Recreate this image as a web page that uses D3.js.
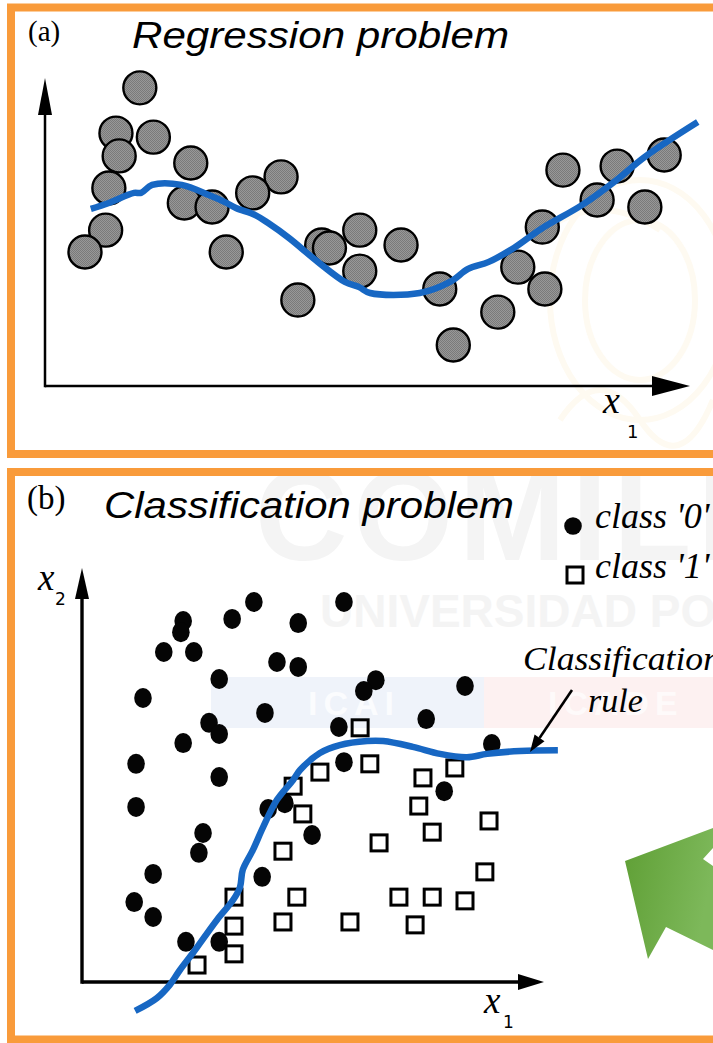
<!DOCTYPE html>
<html><head><meta charset="utf-8">
<script src="https://cdn.jsdelivr.net/npm/d3@7"></script>
<style>html,body{margin:0;padding:0;background:#fff;} svg{display:block;}</style>
</head><body>
<svg id="chart" width="713" height="1043"></svg>
<script>
// ---------- DATA (axis units 0..100) ----------
// (a) regression: observed points
const regX = [14.7, 11.0, 16.8, 11.5, 22.6, 9.9, 36.6, 32.2, 21.6, 25.9, 9.4, 6.2, 28.1, 42.9, 44.1, 48.8, 55.2, 48.8, 39.2, 61.2, 63.3, 70.2, 73.3, 77.5, 77.1, 80.3, 85.6, 88.7, 96.0, 93.0];
const regY = [96.8, 82.1, 80.8, 74.7, 72.4, 64.3, 67.9, 62.7, 59.4, 58.1, 50.6, 43.5, 43.5, 45.8, 44.8, 50.6, 45.8, 37.3, 27.9, 31.5, 13.3, 24.0, 38.6, 31.5, 51.6, 70.1, 60.4, 71.4, 75.0, 58.1];
// (a) fitted regression curve
const fitX = [7.1, 9.9, 13.8, 14.9, 16.6, 21.2, 25.4, 27.9, 29.6, 32.6, 34.6, 37.8, 42.3, 46.5, 48.7, 50.4, 58.1, 62.8, 65.6, 68.8, 72.7, 76.9, 83.3, 88.2, 93.0, 101.2];
const fitY = [57.5, 59.4, 62.7, 62.7, 65.3, 65.3, 62.0, 59.7, 57.8, 55.5, 52.9, 48.1, 40.3, 33.8, 32.1, 30.2, 30.2, 33.8, 38.0, 40.3, 44.8, 51.0, 58.8, 66.2, 74.4, 85.7];
// (b) classification: class '0'
const class0X = [21.9, 21.4, 17.7, 24.2, 32.5, 37.2, 46.8, 56.7, 42.2, 46.8, 29.7, 13.2, 39.6, 63.6, 61.0, 82.9, 27.5, 29.7, 21.9, 55.6, 74.5, 88.7, 11.7, 29.7, 56.7, 11.7, 40.3, 43.9, 78.4, 26.2, 25.3, 49.8, 15.4, 39.0, 11.3, 15.4, 22.5, 29.7];
const class0Y = [87.2, 84.5, 79.7, 79.7, 87.7, 91.8, 86.7, 91.8, 77.3, 76.1, 73.2, 68.6, 65.0, 72.9, 70.3, 71.5, 62.6, 59.9, 57.7, 61.6, 63.5, 57.5, 52.7, 49.5, 53.1, 42.3, 41.8, 43.2, 46.1, 36.0, 31.2, 35.5, 26.1, 25.4, 19.3, 15.7, 9.7, 9.7];
// (b) class '1'
const class1X = [60.2, 51.5, 62.3, 45.7, 80.7, 73.8, 72.9, 47.8, 88.1, 75.8, 64.3, 43.5, 87.2, 32.9, 46.5, 68.6, 75.8, 82.9, 43.5, 58.0, 72.1, 32.9, 32.9, 24.9];
const class1Y = [61.4, 50.7, 52.7, 47.3, 51.7, 49.3, 42.5, 40.6, 38.9, 36.2, 33.6, 31.6, 26.6, 20.5, 20.5, 20.5, 20.5, 19.6, 14.5, 14.5, 13.8, 13.5, 6.8, 4.1];
// (b) classification rule (decision boundary)
const ruleX = [11.5, 16.2, 19.0, 21.2, 24.0, 29.2, 32.7, 34.2, 34.8, 37.0, 39.2, 42.2, 45.7, 47.2, 51.5, 55.8, 61.7, 65.2, 71.6, 77.5, 83.3, 87.7, 94.8, 103.0];
const ruleY = [-7.0, -3.9, -0.7, 2.9, 7.0, 15.0, 19.8, 22.9, 27.1, 31.9, 37.4, 44.0, 48.8, 51.2, 55.3, 57.2, 58.2, 58.2, 56.8, 55.1, 54.3, 55.1, 55.8, 56.0];

const panelLabels = ["(a)", "(b)"];
const panelTitles = ["Regression problem", "Classification problem"];
const legendLabels = ["class '0'", "class '1'"];
const ruleLabel = ["Classification", "rule"];
const axisNames = ["x", "x", "x"];
const axisSubs = ["1", "1", "2"];

// ---------- STYLE ----------
const ORANGE = "#F99B3B";
const BLUE = "#1767C3";

const svg = d3.select("#chart");
const defs = svg.append("defs");

// stipple for grey circles
const pat = defs.append("pattern").attr("id", "stip").attr("patternUnits", "userSpaceOnUse")
  .attr("width", 2).attr("height", 2);
pat.append("rect").attr("width", 2).attr("height", 2).attr("fill", "#989898");
pat.append("rect").attr("width", 1).attr("height", 1).attr("fill", "#7a7a7a");
pat.append("rect").attr("x", 1).attr("y", 1).attr("width", 1).attr("height", 1).attr("fill", "#7a7a7a");

const grad = defs.append("linearGradient").attr("id", "green").attr("x1", "0").attr("x2", "1").attr("y1", "0").attr("y2", "0.3");
grad.append("stop").attr("offset", "0").attr("stop-color", "#5f9f35");
grad.append("stop").attr("offset", "1").attr("stop-color", "#7db85a");

defs.append("clipPath").attr("id", "clipB").append("rect").attr("x", 15).attr("y", 476).attr("width", 700).attr("height", 560);
defs.append("clipPath").attr("id", "clipA").append("rect").attr("x", 15).attr("y", 12).attr("width", 700).attr("height", 442);

svg.append("rect").attr("width", 713).attr("height", 1043).attr("fill", "#fff");

// ---------- faint watermark ----------
const wmA = svg.append("g").attr("clip-path", "url(#clipA)");
const crest = wmA.append("g").attr("fill", "none").attr("stroke", "#fefaf1").attr("stroke-width", 6);
crest.append("ellipse").attr("cx", 640).attr("cy", 300).attr("rx", 90).attr("ry", 120);
crest.append("ellipse").attr("cx", 640).attr("cy", 300).attr("rx", 55).attr("ry", 80);
crest.append("path").attr("d", "M560,420 Q600,360 640,420 T713,400");
crest.append("path").attr("d", "M545,230 Q600,190 660,230");

const wmB = svg.append("g").attr("clip-path", "url(#clipB)");
wmB.append("text").attr("x", 255).attr("y", 560).text("COMILLAS")
  .attr("font-family", "Liberation Sans, Arial, sans-serif").attr("font-weight", "bold")
  .attr("font-size", 128).attr("letter-spacing", 6).attr("fill", "#f4f4f4");
wmB.append("text").attr("x", 320).attr("y", 627).text("UNIVERSIDAD PONTIFICIA")
  .attr("font-family", "Liberation Sans, Arial, sans-serif").attr("font-weight", "bold")
  .attr("font-size", 46).attr("fill", "#f4f4f4");
wmB.append("rect").attr("x", 211).attr("y", 677).attr("width", 273).attr("height", 51).attr("fill", "#eff3fa");
wmB.append("rect").attr("x", 484).attr("y", 677).attr("width", 240).attr("height", 51).attr("fill", "#fdf1f1");
wmB.append("text").attr("x", 308).attr("y", 715).text("ICAI")
  .attr("font-family", "Liberation Sans, Arial, sans-serif").attr("font-weight", "bold")
  .attr("font-size", 34).attr("letter-spacing", 6).attr("fill", "#fbfcfe");
wmB.append("text").attr("x", 548).attr("y", 715).text("ICADE")
  .attr("font-family", "Liberation Sans, Arial, sans-serif").attr("font-weight", "bold")
  .attr("font-size", 34).attr("letter-spacing", 6).attr("fill", "#fefafa");

// green arrow (decorative, clipped at the page edge)
wmB.append("path").attr("d", "M625,861 L713,828 L713,848 L703,859 L713,866 L713,950 L666,927 L648,959 Z")
  .attr("fill", "url(#green)");

// ---------- frames ----------
svg.append("rect").attr("x", 11).attr("y", 7.5).attr("width", 730).attr("height", 446.5)
  .attr("fill", "none").attr("stroke", ORANGE).attr("stroke-width", 8);
svg.append("rect").attr("x", 11).attr("y", 472).attr("width", 730).attr("height", 567.5)
  .attr("fill", "none").attr("stroke", ORANGE).attr("stroke-width", 8);

// helpers
function arrowAxes(g, xs, ys, sw, hx, hy) {
  const x0 = xs(0), y0 = ys(0), x1 = xs(100), y1 = ys(100);
  g.append("line").attr("x1", x0).attr("y1", y0).attr("x2", x1 - hx.len + 2).attr("y2", y0)
    .attr("stroke", "#000").attr("stroke-width", sw);
  g.append("line").attr("x1", x0).attr("y1", y0 + sw / 2).attr("x2", x0).attr("y2", y1 + hy.len - 2)
    .attr("stroke", "#000").attr("stroke-width", sw);
  g.append("path").attr("d", `M${x1},${y0} L${x1 - hx.len},${y0 - hx.half} L${x1 - hx.len},${y0 + hx.half} Z`).attr("fill", "#000");
  g.append("path").attr("d", `M${x0},${y1} L${x0 - hy.half},${y1 + hy.len} L${x0 + hy.half},${y1 + hy.len} Z`).attr("fill", "#000");
}
const serif = "Liberation Serif, Times New Roman, serif";
const sans = "Liberation Sans, Arial, sans-serif";

// ---------- PANEL (a) ----------
const gA = svg.append("g");
const xA = d3.scaleLinear().domain([0, 100]).range([45, 690]);
const yA = d3.scaleLinear().domain([0, 100]).range([386, 78]);
arrowAxes(gA, xA, yA, 2.5, {len: 38, half: 10}, {len: 37, half: 7});

gA.append("text").attr("x", 28).attr("y", 41).text(panelLabels[0])
  .attr("font-family", serif).attr("font-size", 29);
gA.append("text").attr("x", 132).attr("y", 48).text(panelTitles[0])
  .attr("font-family", sans).attr("font-style", "italic").attr("font-size", 37)
  .attr("textLength", 377).attr("lengthAdjust", "spacingAndGlyphs");

gA.selectAll("circle.obs").data(d3.range(regX.length)).join("circle")
  .attr("class", "obs")
  .attr("cx", i => xA(regX[i])).attr("cy", i => yA(regY[i])).attr("r", 16.5)
  .attr("fill", "url(#stip)").attr("stroke", "#000").attr("stroke-width", 2.4);

const lineA = d3.line().x(i => xA(fitX[i])).y(i => yA(fitY[i])).curve(d3.curveCatmullRom.alpha(0.5));
gA.append("path").attr("d", lineA(d3.range(fitX.length)))
  .attr("fill", "none").attr("stroke", BLUE).attr("stroke-width", 6.5).attr("stroke-linejoin", "round");

gA.append("text").attr("x", 603).attr("y", 413).text(axisNames[0])
  .attr("font-family", serif).attr("font-style", "italic").attr("font-size", 38);
gA.append("text").attr("x", 627).attr("y", 438).text(axisSubs[0])
  .attr("font-family", "DejaVu Sans, sans-serif").attr("font-size", 18);

// ---------- PANEL (b) ----------
const gB = svg.append("g");
const xB = d3.scaleLinear().domain([0, 100]).range([82, 544]);
const yB = d3.scaleLinear().domain([0, 100]).range([982, 568]);
arrowAxes(gB, xB, yB, 3.4, {len: 26, half: 8}, {len: 31, half: 7});

gB.append("text").attr("x", 27).attr("y", 509).text(panelLabels[1])
  .attr("font-family", serif).attr("font-size", 33);
gB.append("text").attr("x", 104).attr("y", 518).text(panelTitles[1])
  .attr("font-family", sans).attr("font-style", "italic").attr("font-size", 37)
  .attr("textLength", 410).attr("lengthAdjust", "spacingAndGlyphs");

gB.selectAll("ellipse.c0").data(d3.range(class0X.length)).join("ellipse")
  .attr("class", "c0")
  .attr("cx", i => xB(class0X[i])).attr("cy", i => yB(class0Y[i])).attr("rx", 8.8).attr("ry", 10)
  .attr("fill", "#050505");

const sq = 16;
gB.selectAll("rect.c1").data(d3.range(class1X.length)).join("rect")
  .attr("class", "c1")
  .attr("x", i => xB(class1X[i]) - sq / 2).attr("y", i => yB(class1Y[i]) - sq / 2)
  .attr("width", sq).attr("height", sq)
  .attr("fill", "none").attr("stroke", "#000").attr("stroke-width", 3);

const lineB = d3.line().x(i => xB(ruleX[i])).y(i => yB(ruleY[i])).curve(d3.curveCatmullRom.alpha(0.5));
gB.append("path").attr("d", lineB(d3.range(ruleX.length)))
  .attr("fill", "none").attr("stroke", BLUE).attr("stroke-width", 6.5).attr("stroke-linejoin", "round");

// axis labels
gB.append("text").attr("x", 484).attr("y", 1013).text(axisNames[1])
  .attr("font-family", serif).attr("font-style", "italic").attr("font-size", 37);
gB.append("text").attr("x", 503).attr("y", 1028).text(axisSubs[1])
  .attr("font-family", "DejaVu Sans, sans-serif").attr("font-size", 17);
gB.append("text").attr("x", 38).attr("y", 590).text(axisNames[2])
  .attr("font-family", serif).attr("font-style", "italic").attr("font-size", 37);
gB.append("text").attr("x", 55).attr("y", 605).text(axisSubs[2])
  .attr("font-family", "DejaVu Sans, sans-serif").attr("font-size", 17);

// legend
gB.append("circle").attr("cx", 573).attr("cy", 526).attr("r", 8.8).attr("fill", "#050505");
gB.append("rect").attr("x", 567).attr("y", 567).attr("width", 16).attr("height", 16)
  .attr("fill", "none").attr("stroke", "#000").attr("stroke-width", 3);
gB.append("text").attr("x", 595).attr("y", 528).text(legendLabels[0])
  .attr("font-family", serif).attr("font-style", "italic").attr("font-size", 36);
gB.append("text").attr("x", 595).attr("y", 578).text(legendLabels[1])
  .attr("font-family", serif).attr("font-style", "italic").attr("font-size", 36);

// annotation
gB.append("text").attr("x", 523).attr("y", 670).text(ruleLabel[0])
  .attr("font-family", serif).attr("font-style", "italic").attr("font-size", 34)
  .attr("textLength", 198).attr("lengthAdjust", "spacingAndGlyphs");
gB.append("text").attr("x", 588).attr("y", 712).text(ruleLabel[1])
  .attr("font-family", serif).attr("font-style", "italic").attr("font-size", 34);
const ax0 = 572, ay0 = 690, ax1 = 530, ay1 = 752;
const ang = Math.atan2(ay1 - ay0, ax1 - ax0), hl = 17, hw = 6;
const bx = ax1 - hl * Math.cos(ang), by = ay1 - hl * Math.sin(ang);
gB.append("line").attr("x1", ax0).attr("y1", ay0).attr("x2", bx).attr("y2", by)
  .attr("stroke", "#000").attr("stroke-width", 2.6);
gB.append("path").attr("d",
  `M${ax1},${ay1} L${bx + hw * Math.sin(ang)},${by - hw * Math.cos(ang)} L${bx - hw * Math.sin(ang)},${by + hw * Math.cos(ang)} Z`)
  .attr("fill", "#000");
</script>
</body></html>
